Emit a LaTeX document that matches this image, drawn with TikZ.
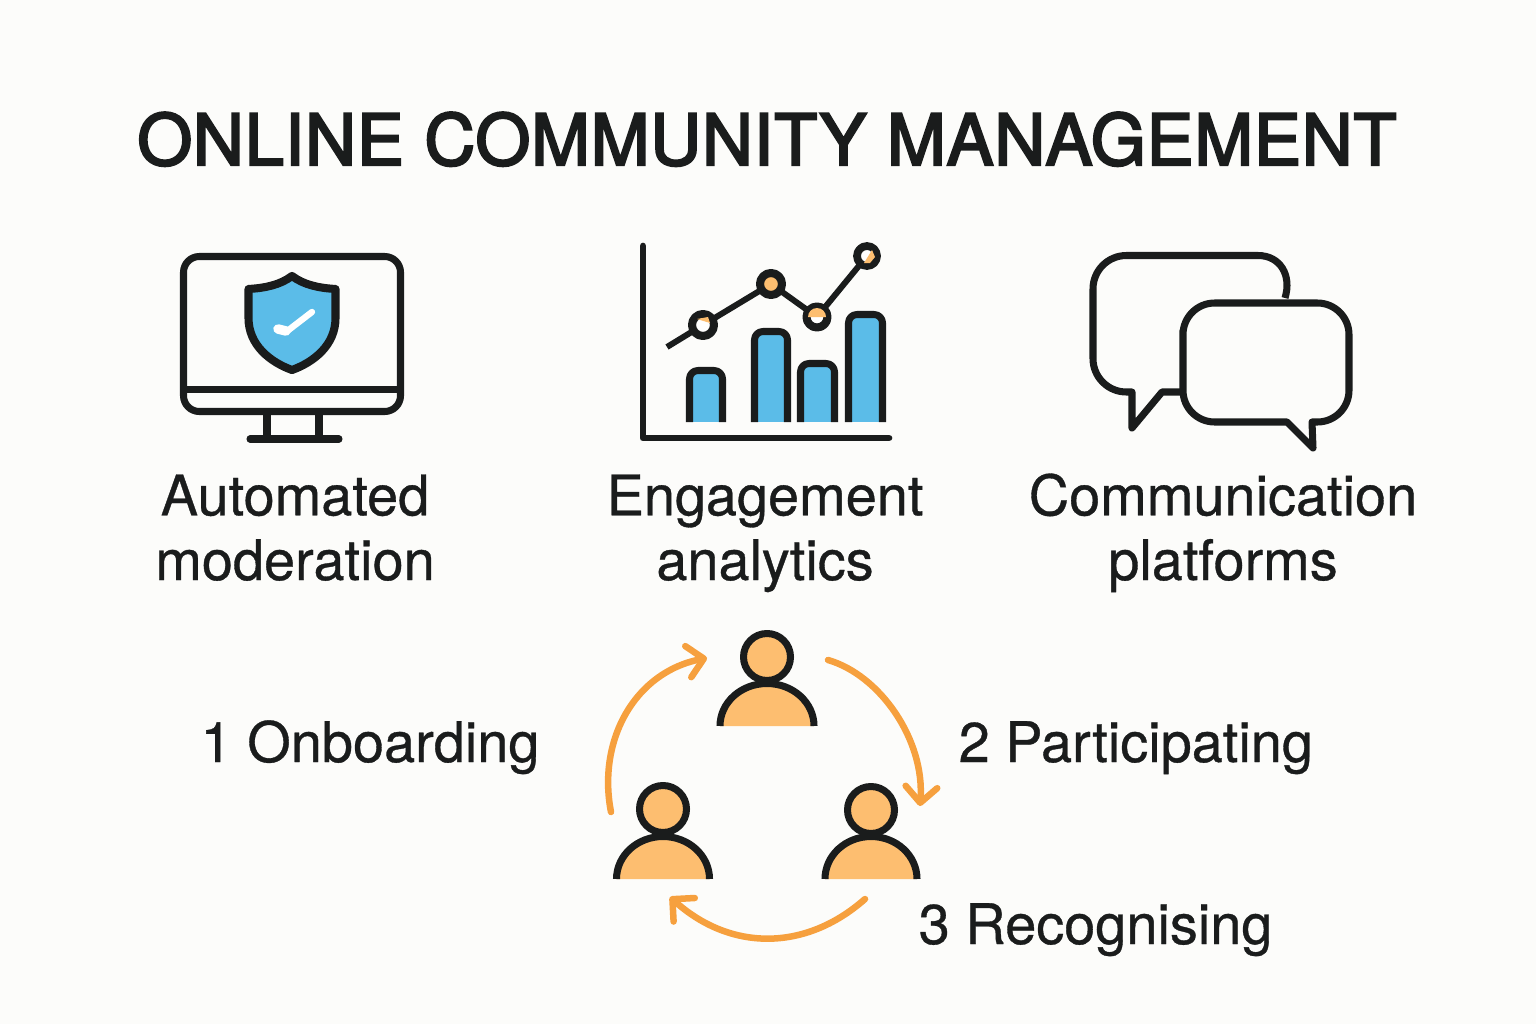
\documentclass[tikz,border=0pt]{standalone}
\usepackage{fontspec}
\setmainfont{TeX Gyre Heros}
\newfontfamily\titlefont[FakeBold=3,LetterSpace=1]{TeX Gyre Heros}
\newfontfamily\capfont[FakeBold=0.6]{TeX Gyre Heros}
\usetikzlibrary{arrows.meta}

% ------------------------------------------------ theme colors
\definecolor{cm_paper}{RGB}{252,252,250}
\definecolor{cm_ink}{RGB}{26,28,28}
\definecolor{cm_blue}{RGB}{91,188,232}
\definecolor{cm_peach}{RGB}{253,190,112}
\definecolor{cm_orange}{RGB}{246,160,62}

\tikzset{
  icon/.style={draw=cm_ink,line width=2pt,line join=round},
  bar/.style={icon,rounded corners=2.4pt},
  title/.style={font=\titlefont\fontsize{20.1}{24}\selectfont,text=cm_ink,inner sep=0pt},
  caption/.style={font=\capfont\fontsize{15.9}{18.4}\selectfont,text=cm_ink,align=center,inner sep=0pt},
  cycle/.style={draw=cm_orange,line width=1.85pt,line cap=round,
    -{Straight Barb[length=4.5pt,width=9pt,round,line width=1.85pt]}},
}

% head centre, head radius, body half width, body top, base
\newcommand{\drawperson}[6]{%
  \fill[cm_peach] (#1-#3,#5) arc[start angle=180,end angle=360,x radius=#3,y radius=#5-#4] -- cycle;
  \draw[icon,line cap=butt] (#1-#3,#5) arc[start angle=180,end angle=360,x radius=#3,y radius=#5-#4];
  \draw[icon,fill=cm_peach] (#1,#2) circle[radius=#6];
}

\begin{document}
\begin{tikzpicture}[x=0.01cm,y=-0.01cm]

\useasboundingbox[fill=cm_paper] (0,0) rectangle (1536,1024);

% title
\node[title,anchor=base] (heading) at (767,165) {ONLINE COMMUNITY MANAGEMENT};

% monitor
\draw[icon,rounded corners=4.5pt] (183.5,256.5) rectangle (400.5,411.5);
\draw[icon] (183.5,389.5) -- (400.5,389.5);
\draw[icon] (267,412) -- (267,438);
\draw[icon] (319,412) -- (319,438);
\draw[icon,line cap=round] (250,439) -- (339,439);
\draw[icon,line width=2.3pt,fill=cm_blue] (292,276) .. controls (280,285) and (265,288) .. (248.5,289)
  -- (248.5,318) .. controls (248.5,345) and (270,362) .. (292,370)
  .. controls (314,362) and (335.5,345) .. (335.5,318) -- (335.5,289)
  .. controls (319,288) and (304,285) .. (292,276) -- cycle;
\draw[white,line width=2.7pt,line cap=round] (278,329) -- (286,331);
\draw[white,line width=1.8pt,line cap=round,line join=round] (286,332) -- (312,312);

% chart
\draw[icon,line width=1.9pt,line cap=round] (643,246) -- (643,438) -- (889,438);
\foreach \xa/\xb/\ytop in {689.5/722.5/370.5, 754.5/787.5/331.5, 800.5/834.5/363.5, 848.5/882.5/314.5}{
  \fill[cm_blue] (\xa,422) -- (\xa,\ytop) -- (\xb,\ytop) -- (\xb,422) -- cycle;
  \draw[bar] (\xa,422) -- (\xa,\ytop) -- (\xb,\ytop) -- (\xb,422);
}
\draw[icon,line width=1.7pt] (667,347) -- (703,325) -- (771,284) -- (817,317) -- (867,256);
\draw[icon,line width=2.3pt,fill=white] (703,325) circle[radius=11];
\fill[cm_peach] (697,319) -- (708,317) -- (710,323) -- cycle;
\draw[icon,line width=2.3pt,fill=cm_peach] (771,284) circle[radius=11];
\draw[icon,line width=2.3pt,fill=white] (817,317) circle[radius=10.5];
\fill[cm_peach] (808,317) arc[start angle=180,end angle=360,radius=9] -- cycle;
\draw[icon,line width=2.2pt,fill=white] (867,256) circle[radius=10];
\fill[cm_peach] (872,250) -- (864,263) -- (870,263) -- (875,257) -- cycle;

% speech bubbles
\draw[icon,line cap=butt] (1285,298) .. controls (1292,275) and (1280,255.5) .. (1258,255.5)
  [rounded corners=9.5pt] -- (1093,255.5) -- (1093,392) [sharp corners] -- (1132,392)
  -- (1132,428) -- (1162,392) -- (1181,392);
\draw[icon,rounded corners=9pt] (1183,362) -- (1183,303) -- (1349,303) -- (1349,422)
  [sharp corners] -- (1312,422) -- (1313,448) -- (1287,422) [rounded corners=9pt] -- (1183,422) -- cycle;

% captions
\node[caption,anchor=base] (moderation) at (295,580) {Automated\\moderation};
\node[caption,anchor=base] (analytics) at (765,580) {Engagement\\analytics};
\node[caption,anchor=base] (platforms) at (1223,580) {Communication\\platforms};

% people
\drawperson{767}{657}{47}{683.5}{726}{23.5}
\drawperson{663}{809}{46.5}{836.5}{879}{23.5}
\drawperson{871}{810}{46}{836.5}{879}{23.5}

% cycle arrows
\coordinate (top_out) at (828,660);
\coordinate (right_in) at (920,806);
\coordinate (right_out) at (865,899);
\coordinate (left_in) at (670,897);
\coordinate (left_out) at (611,812);
\coordinate (top_in) at (707,658);
\draw[cycle] (top_out) .. controls (880,675) and (925,740) .. (right_in);
\draw[cycle] (right_out) .. controls (805,952) and (730,951) .. (left_in);
\draw[cycle] (left_out) .. controls (597,740) and (635,672) .. (top_in);

% stage labels
\node[caption,anchor=base west] (onboarding) at (200,762) {1 Onboarding};
\node[caption,anchor=base west] (participating) at (958,762) {2 Participating};
\node[caption,anchor=base west] (recognising) at (918,944) {3 Recognising};

\end{tikzpicture}
\end{document}
